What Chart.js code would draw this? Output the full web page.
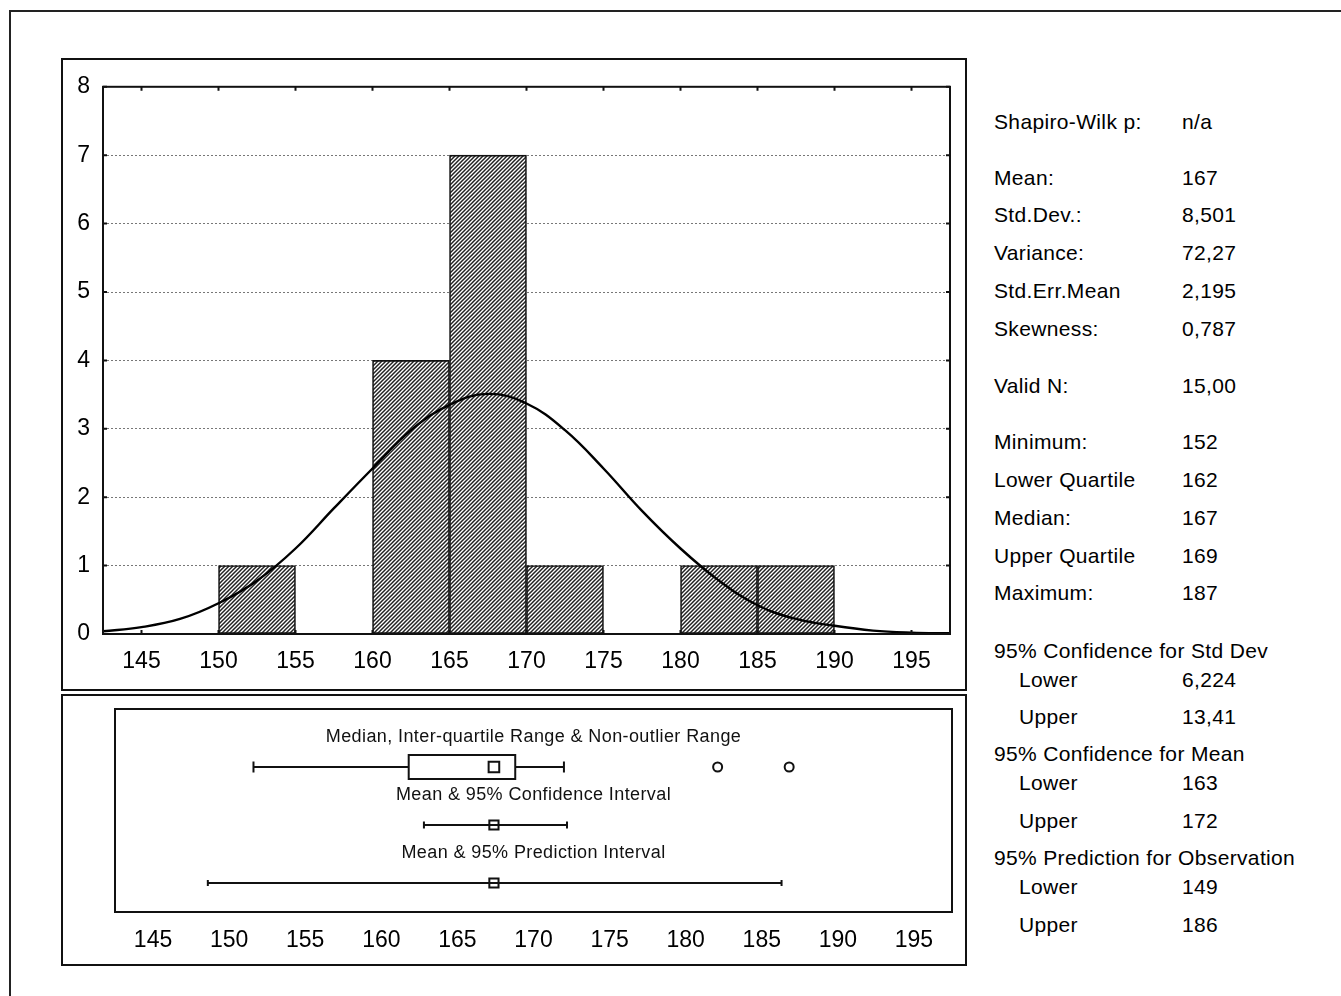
<!DOCTYPE html>
<html lang="en">
  <head>
    <meta charset="UTF-8" />
    <title>Descriptive statistics</title>
    <script src="https://cdn.jsdelivr.net/npm/chart.js"></script>
    <style>
      html, body { margin: 0; padding: 0; background: #fff; overflow: hidden; }
      body { width: 1341px; height: 996px; position: relative; font-family: "Liberation Sans", Arial, sans-serif; }
      .frame { position: absolute; left: 9px; top: 10px; width: 1400px; height: 1100px;
               border-left: 2px solid #222; border-top: 2px solid #222; }
      .panel { position: absolute; box-sizing: border-box; border: 2px solid #111; }
      #hist-panel { left: 61px; top: 58px; width: 906px; height: 633px; }
      #box-panel { left: 61px; top: 694px; width: 906px; height: 272px; }
      canvas { position: absolute; }
      #chart-hist { left: 63px; top: 60px; }
      #chart-box { left: 63px; top: 696px; }
      .stat { position: absolute; font-size: 21px; line-height: 24px; letter-spacing: 0.35px;
              color: #000; white-space: nowrap; }
    </style>
  </head>
  <body>
    <div class="frame"></div>
    <div class="panel" id="hist-panel"></div>
    <div class="panel" id="box-panel"></div>
    <canvas id="chart-hist" width="902" height="629" style="width:902px;height:629px"></canvas>
    <canvas id="chart-box" width="902" height="268" style="width:902px;height:268px"></canvas>
    <div id="stats"></div>
    <script>
      // histogram bins (width 5) and counts
      const binLower = [150, 155, 160, 165, 170, 175, 180, 185];
      const binUpper = [155, 160, 165, 170, 175, 180, 185, 190];
      const binCounts = [1, 0, 4, 7, 1, 0, 1, 1];

      // fitted normal curve
      const curveX = [142.5, 145, 147.5, 150, 152.5, 155, 157.5, 160, 162.5, 165, 167.5,
                      170, 172.5, 175, 177.5, 180, 182.5, 185, 187.5, 190, 192.5, 195, 197.5];
      const curveY = [0.04, 0.1, 0.22, 0.45, 0.78, 1.25, 1.84, 2.42, 2.98, 3.35, 3.51,
                      3.37, 2.98, 2.42, 1.8, 1.25, 0.78, 0.42, 0.22, 0.12, 0.05, 0.02, 0.01];

      const xTicks = [145, 150, 155, 160, 165, 170, 175, 180, 185, 190, 195];
      const yTicks = [0, 1, 2, 3, 4, 5, 6, 7, 8];

      // box plot rows
      const whisker = [151.6, 172];
      const quartiles = [161.8, 168.8];
      const median = 167.4;
      const outliers = [182.1, 186.8];
      const meanCI = [162.8, 172.2];
      const meanPI = [148.6, 186.3];
      const mean = 167.4;
      const rowTitles = ["Median, Inter-quartile Range & Non-outlier Range",
                         "Mean & 95% Confidence Interval",
                         "Mean & 95% Prediction Interval"];

      // statistics table
      const statLabels = ["Shapiro-Wilk p:", "Mean:", "Std.Dev.:", "Variance:", "Std.Err.Mean",
        "Skewness:", "Valid N:", "Minimum:", "Lower Quartile", "Median:", "Upper Quartile",
        "Maximum:", "95% Confidence for Std Dev", "Lower", "Upper", "95% Confidence for Mean",
        "Lower", "Upper", "95% Prediction for Observation", "Lower", "Upper"];
      const statValues = ["n/a", "167", "8,501", "72,27", "2,195", "0,787", "15,00", "152",
        "162", "167", "169", "187", "", "6,224", "13,41", "", "163", "172", "", "149", "186"];
      const statIndented = [13, 14, 16, 17, 19, 20];
      // layout only: vertical centre of each row
      const statRowY = [122, 178, 215, 253, 291, 329, 386, 442, 480, 518, 556, 593,
                        651, 680, 717, 754, 783, 821, 858, 887, 925];

      const stats = document.getElementById("stats");
      statLabels.forEach((label, i) => {
        const l = document.createElement("div");
        l.className = "stat";
        l.textContent = label;
        l.style.left = (statIndented.includes(i) ? 1019 : 994) + "px";
        l.style.top = statRowY[i] - 12 + "px";
        stats.appendChild(l);
        if (statValues[i]) {
          const v = document.createElement("div");
          v.className = "stat";
          v.textContent = statValues[i];
          v.style.left = "1182px";
          v.style.top = statRowY[i] - 12 + "px";
          stats.appendChild(v);
        }
      });

      Chart.defaults.font.family = '"Liberation Sans", Arial, sans-serif';
      Chart.defaults.color = "#000";
      Chart.defaults.animation = false;

      // diagonal hatch fill
      const pc = document.createElement("canvas");
      pc.width = 4;
      pc.height = 4;
      const pctx = pc.getContext("2d");
      pctx.fillStyle = "#fff";
      pctx.fillRect(0, 0, 4, 4);
      pctx.strokeStyle = "#222";
      pctx.lineWidth = 1.5;
      pctx.beginPath();
      pctx.moveTo(-1, 5); pctx.lineTo(5, -1);
      pctx.moveTo(-1, 1); pctx.lineTo(1, -1);
      pctx.moveTo(3, 5); pctx.lineTo(5, 3);
      pctx.stroke();

      const ctxHist = document.getElementById("chart-hist").getContext("2d");
      const hatch = ctxHist.createPattern(pc, "repeat");

      // frame around plot area with inward ticks
      const framePlugin = {
        id: "frame",
        afterDraw(chart, args, opts) {
          const { ctx, chartArea: a } = chart;
          ctx.save();
          ctx.strokeStyle = "#111";
          ctx.lineWidth = 2;
          ctx.strokeRect(a.left, a.top, a.right - a.left, a.bottom - a.top);
          if (opts.ticks) {
            ctx.beginPath();
            chart.scales.x.ticks.forEach((t) => {
              const px = chart.scales.x.getPixelForValue(t.value);
              ctx.moveTo(px, a.bottom); ctx.lineTo(px, a.bottom - 4);
              ctx.moveTo(px, a.top); ctx.lineTo(px, a.top + 4);
            });
            chart.scales.y.ticks.forEach((t) => {
              const py = chart.scales.y.getPixelForValue(t.value);
              ctx.moveTo(a.left, py); ctx.lineTo(a.left + 4, py);
              ctx.moveTo(a.right, py); ctx.lineTo(a.right - 4, py);
            });
            ctx.stroke();
          }
          ctx.restore();
        },
      };

      new Chart(ctxHist, {
        type: "bar",
        data: {
          datasets: [
            {
              type: "line",
              data: curveX.map((x, i) => ({ x: x, y: curveY[i] })),
              borderColor: "#000",
              borderWidth: 2.4,
              pointRadius: 0,
              tension: 0.4,
              order: 0,
            },
            {
              type: "bar",
              data: binLower.map((lo, i) => ({ x: (lo + binUpper[i]) / 2, y: binCounts[i] })),
              backgroundColor: hatch,
              borderColor: "#111",
              borderWidth: 1.6,
              borderSkipped: false,
              barPercentage: 1,
              categoryPercentage: 1,
              order: 1,
            },
          ],
        },
        options: {
          responsive: false,
          layout: { padding: { left: 0, right: 15, top: 23, bottom: 0 } },
          plugins: { legend: { display: false }, tooltip: { enabled: false }, frame: { ticks: true } },
          scales: {
            x: {
              type: "linear",
              offset: false,
              min: 142.5,
              max: 197.5,
              afterBuildTicks: (s) => { s.ticks = xTicks.map((v) => ({ value: v })); },
              afterFit: (s) => { s.height = 55; },
              grid: { display: false, offset: false },
              border: { display: false },
              ticks: { font: { size: 23 }, padding: 6, maxRotation: 0 },
            },
            y: {
              min: 0,
              max: 8,
              afterBuildTicks: (s) => { s.ticks = yTicks.map((v) => ({ value: v })); },
              afterFit: (s) => { s.width = 40; },
              grid: { color: "#777", drawTicks: false, lineWidth: 1 },
              border: { display: false, dash: [2, 2] },
              ticks: { font: { size: 23 }, padding: 13 },
            },
          },
        },
        plugins: [framePlugin],
      });

      // box, titles for the summary panel
      const boxPlugin = {
        id: "boxrows",
        beforeDatasetsDraw(chart) {
          const { ctx, scales } = chart;
          const x0 = scales.x.getPixelForValue(quartiles[0]);
          const x1 = scales.x.getPixelForValue(quartiles[1]);
          const yc = scales.y.getPixelForValue(1);
          ctx.save();
          ctx.fillStyle = "#fff";
          ctx.strokeStyle = "#111";
          ctx.lineWidth = 2;
          ctx.fillRect(x0, yc - 12, x1 - x0, 24);
          ctx.strokeRect(x0, yc - 12, x1 - x0, 24);
          ctx.restore();
        },
        afterDraw(chart) {
          const { ctx, scales, chartArea: a } = chart;
          ctx.save();
          ctx.fillStyle = "#111";
          ctx.font = '18px "Liberation Sans", Arial, sans-serif';
          ctx.letterSpacing = "0.4px";
          ctx.textAlign = "center";
          ctx.textBaseline = "middle";
          rowTitles.forEach((t, i) => {
            ctx.fillText(t, (a.left + a.right) / 2, scales.y.getPixelForValue(i + 0.48));
          });
          ctx.restore();
        },
      };

      const lineStyle = {
        type: "line",
        showLine: true,
        borderColor: "#111",
        borderWidth: 2,
        pointStyle: "line",
        pointRotation: 90,
        pointBorderColor: "#111",
        pointBorderWidth: 2,
        tension: 0,
      };
      const squareStyle = {
        type: "scatter",
        pointStyle: "rect",
        pointRadius: 7.5,
        pointBackgroundColor: "#fff",
        pointBorderColor: "#111",
        pointBorderWidth: 2,
      };

      new Chart(document.getElementById("chart-box").getContext("2d"), {
        type: "scatter",
        data: {
          datasets: [
            { ...lineStyle, data: [{ x: whisker[0], y: 1 }, { x: quartiles[0], y: 1 }], pointRadius: [5.5, 0] },
            { ...lineStyle, data: [{ x: quartiles[1], y: 1 }, { x: whisker[1], y: 1 }], pointRadius: [0, 5.5] },
            { ...squareStyle, data: [{ x: median, y: 1 }] },
            {
              type: "scatter",
              data: outliers.map((v) => ({ x: v, y: 1 })),
              pointStyle: "circle",
              pointRadius: 4.5,
              pointBackgroundColor: "#fff",
              pointBorderColor: "#111",
              pointBorderWidth: 2,
            },
            { ...lineStyle, data: meanCI.map((v) => ({ x: v, y: 2 })), pointRadius: 3.5 },
            { ...squareStyle, data: [{ x: mean, y: 2 }], pointRadius: 6.5 },
            { ...lineStyle, data: meanPI.map((v) => ({ x: v, y: 3 })), pointRadius: 3 },
            { ...squareStyle, data: [{ x: mean, y: 3 }], pointRadius: 6.5 },
          ],
        },
        options: {
          responsive: false,
          layout: { padding: { left: 52, right: 13, top: 13, bottom: 0 } },
          plugins: { legend: { display: false }, tooltip: { enabled: false }, frame: { ticks: false } },
          scales: {
            x: {
              type: "linear",
              min: 142.5,
              max: 197.5,
              afterBuildTicks: (s) => { s.ticks = xTicks.map((v) => ({ value: v })); },
              afterFit: (s) => { s.height = 52; },
              grid: { display: false },
              border: { display: false },
              ticks: { font: { size: 23 }, padding: 7, maxRotation: 0 },
            },
            y: { min: 0, max: 3.5, reverse: true, display: false },
          },
        },
        plugins: [boxPlugin, framePlugin],
      });
    </script>
  </body>
</html>
